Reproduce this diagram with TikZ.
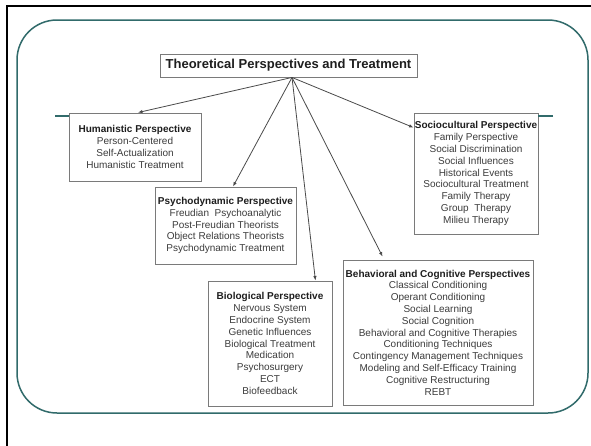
\documentclass[tikz,border=0pt]{standalone}
\usepackage{fontspec}
\setmainfont{Liberation Sans}
\usetikzlibrary{arrows.meta,calc}
\definecolor{tealline}{HTML}{316B6B}
\definecolor{boxgray}{HTML}{7A7A7A}
\definecolor{linegray}{HTML}{4A4A4A}
\definecolor{txtgray}{HTML}{3C3C3C}
\definecolor{headgray}{HTML}{1E1E1E}
\begin{document}
\begin{tikzpicture}[x=1pt,y=-1pt,
  pbox/.style={draw=boxgray, line width=0.9pt, fill=white, inner sep=0pt, align=center,
    font=\fontsize{10}{11.8}\selectfont, text=txtgray},
  titlebox/.style={draw=boxgray, line width=0.9pt, fill=white, inner sep=0pt,
    font=\fontsize{13}{15}\selectfont\bfseries, text=headgray},
  arr/.style={draw=linegray, line width=0.8pt, -{Latex[length=4.5pt,width=3.5pt]}},
  slideframe/.style={draw=black, line width=2.2pt},
  tealframe/.style={draw=tealline, line width=1.5pt}]
\newcommand{\hd}[1]{{\bfseries\color{headgray}#1}}
\useasboundingbox (0,0) rectangle (591,445);
\fill[white] (0,0) rectangle (591,445);
\draw[slideframe] (7,446) -- (7,6) -- (592,6);
\draw[tealframe, rounded corners=40pt] (17,20) rectangle (588,413);

\node[titlebox, minimum width=257pt, minimum height=23pt] (title) at (288.5,65.5)
  {Theoretical Perspectives and Treatment};

\node[pbox, minimum width=132pt, minimum height=68pt] (hum) at (135,147)
  {\hd{Humanistic Perspective}\\Person-Centered\\Self-Actualization\\Humanistic Treatment};
\node[pbox, minimum width=141pt, minimum height=77pt] (psy) at (225.5,225.5)
  {\hd{Psychodynamic Perspective}\\Freudian\ \ Psychoanalytic\\Post-Freudian Theorists\\Object Relations Theorists\\Psychodynamic Treatment};
\node[pbox, minimum width=124pt, minimum height=125pt] (bio) at (270,343.5)
  {\hd{Biological Perspective}\\Nervous System\\Endocrine System\\Genetic Influences\\Biological Treatment\\Medication\\Psychosurgery\\ECT\\Biofeedback};
\node[pbox, minimum width=190pt, minimum height=145pt] (beh) at (438,332.5)
  {\hd{Behavioral and Cognitive Perspectives}\\Classical Conditioning\\Operant Conditioning\\Social Learning\\Social Cognition\\Behavioral and Cognitive Therapies\\Conditioning Techniques\\Contingency Management Techniques\\Modeling and Self-Efficacy Training\\Cognitive Restructuring\\REBT};
\node[pbox, minimum width=124pt, minimum height=121pt] (soc) at (476,173.5)
  {\hd{Sociocultural Perspective}\\Family Perspective\\Social Discrimination\\Social Influences\\Historical Events\\Sociocultural Treatment\\Family Therapy\\Group\ \ Therapy\\Milieu Therapy};

\coordinate (tl) at (55,116);
\coordinate (tr) at (553,116);
\draw[tealframe] (tl) -- (tl -| hum.west);
\draw[tealframe] (tr) -- (tr -| soc.east);

\coordinate (o) at ($(title.south)+(3.5,0)$);
\draw[arr] (o) -- ($(hum.north)+(3,0)$);
\draw[arr] (o) -- ($(psy.north)+(7.5,0)$);
\draw[arr] (o) -- ($(bio.north east)+(-17,0)$);
\draw[arr] (o) -- ($(beh.north west)+(40,-3)$);
\draw[arr] (o) -- ($(soc.north west)+(0,15)$);
\end{tikzpicture}
\end{document}
